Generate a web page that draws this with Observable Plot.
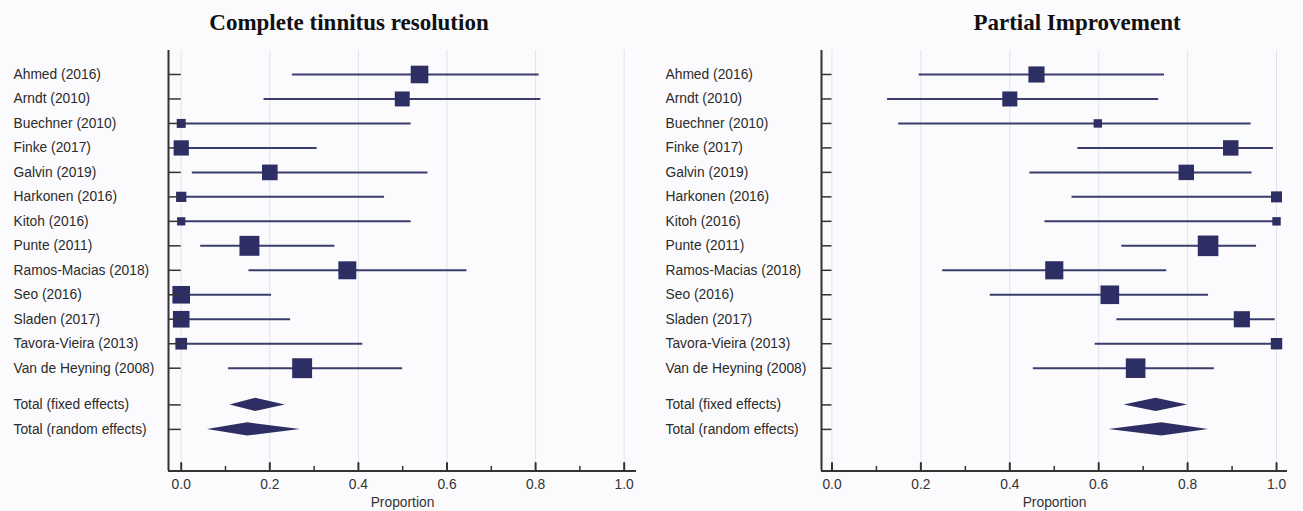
<!DOCTYPE html>
<html><head><meta charset="utf-8">
<script src="https://cdn.jsdelivr.net/npm/d3@7"></script>
<script src="https://cdn.jsdelivr.net/npm/@observablehq/plot@0.6"></script>
<style>
body{margin:0;background:#fbfbfd;}
#wrap{position:relative;width:1303px;height:511px;overflow:hidden;}
.title{position:absolute;top:10.5px;font-family:"Liberation Serif","Times New Roman",serif;font-weight:bold;font-size:23px;line-height:23px;white-space:nowrap;transform:translateX(-50%);color:#111;}
.panel{position:absolute;top:40px;}
</style></head><body><div id="wrap"></div>
<script>
// ---------- data ----------
const studies = ["Ahmed (2016)", "Arndt (2010)", "Buechner (2010)", "Finke (2017)", "Galvin (2019)", "Harkonen (2016)", "Kitoh (2016)", "Punte (2011)", "Ramos-Macias (2018)", "Seo (2016)", "Sladen (2017)", "Tavora-Vieira (2013)", "Van de Heyning (2008)"];
const totalLabels = ["Total (fixed effects)", "Total (random effects)"];

// Complete tinnitus resolution
const completeEst = [0.538, 0.499, 0, 0, 0.200, 0, 0, 0.154, 0.375, 0, 0, 0, 0.273];
const completeLo  = [0.251, 0.187, 0, 0, 0.025, 0, 0, 0.044, 0.153, 0, 0, 0, 0.107];
const completeHi  = [0.808, 0.812, 0.519, 0.307, 0.557, 0.459, 0.519, 0.347, 0.645, 0.204, 0.247, 0.410, 0.500];
const completeWeight = [10.0, 7.2, 2.6, 7.5, 7.9, 3.4, 2.2, 12.8, 10.4, 10.0, 8.9, 4.4, 12.8];
const completeTotalEst = [0.168, 0.150];
const completeTotalLo  = [0.110, 0.059];
const completeTotalHi  = [0.235, 0.269];

// Partial improvement
const partialEst = [0.460, 0.400, 0.598, 0.897, 0.797, 1.0, 1.0, 0.846, 0.500, 0.625, 0.922, 1.0, 0.683];
const partialLo  = [0.196, 0.125, 0.150, 0.553, 0.445, 0.540, 0.479, 0.652, 0.249, 0.356, 0.641, 0.592, 0.453];
const partialHi  = [0.748, 0.735, 0.943, 0.993, 0.945, 1.0, 1.0, 0.955, 0.753, 0.847, 0.997, 1.0, 0.860];
const partialWeight = [8.4, 7.3, 2.3, 7.7, 7.7, 3.9, 2.3, 13.7, 10.6, 11.2, 8.4, 4.2, 12.4];
const partialTotalEst = [0.729, 0.742];
const partialTotalLo  = [0.657, 0.623];
const partialTotalHi  = [0.800, 0.847];

const xTicks = [0, 0.2, 0.4, 0.6, 0.8, 1.0];
const xMinorTicks = [0.1, 0.3, 0.5, 0.7, 0.9];
const titles = ["Complete tinnitus resolution", "Partial Improvement"];
const axisTitle = "Proportion";

// ---------- drawing ----------
const navy = "#2d2e63";
const ciColor = "#3a3d6e";
const axisColor = "#333333";
const gridColor = "#e2e3ea";
const tickUp = {draw(ctx, l) { ctx.moveTo(0, 0); ctx.lineTo(0, -l); }};
const yDomain = [-0.98, 16.2];

function panel(cfg) {
  const rows = studies.map((s, i) => ({label: s, pos: i, est: cfg.est[i], lo: cfg.lo[i], hi: cfg.hi[i], w: cfg.w[i]}));
  const totals = totalLabels.map((s, j) => ({label: s, pos: studies.length + 0.5 + j, est: cfg.tEst[j], lo: cfg.tLo[j], hi: cfg.tHi[j]}));
  const h = 0.27;
  const diamond = totals.flatMap(t => [
    {name: t.label, y: t.pos - h, x1: t.est, x2: t.est},
    {name: t.label, y: t.pos, x1: t.lo, x2: t.hi},
    {name: t.label, y: t.pos + h, x1: t.est, x2: t.est}
  ]);
  const all = rows.concat(totals);
  const xmin = cfg.xDomain[0];
  return Plot.plot({
    width: cfg.width, height: 471,
    marginTop: 10, marginBottom: 40.5, marginLeft: cfg.marginLeft, marginRight: cfg.marginRight,
    style: {background: "transparent", fontFamily: "'Liberation Sans', Arial, sans-serif", fontSize: "13.8px", color: "#2b2b2b", overflow: "visible"},
    x: {domain: cfg.xDomain},
    y: {domain: yDomain, reverse: true, axis: null},
    r: {type: "sqrt", domain: [0, 16], range: [0, 12.57]},
    marks: [
      Plot.ruleX(xTicks, {stroke: gridColor, strokeWidth: 1}),
      Plot.ruleY(rows, {y: "pos", x1: "lo", x2: "hi", stroke: ciColor, strokeWidth: 2}),
      Plot.dot(rows, {x: "est", y: "pos", r: "w", symbol: "square", fill: navy, stroke: null}),
      Plot.areaX(diamond, {y: "y", x1: "x1", x2: "x2", z: "name", fill: navy, curve: "linear"}),
      Plot.ruleY(all, {y: "pos", x1: xmin, x2: 0, stroke: axisColor, strokeWidth: 1.5}),
      Plot.ruleX([xmin], {stroke: axisColor, strokeWidth: 2}),
      Plot.ruleY([yDomain[1]], {stroke: axisColor, strokeWidth: 2}),
      Plot.vector(xTicks, {x: d => d, frameAnchor: "bottom", length: 8, shape: tickUp, anchor: "start", stroke: axisColor, strokeWidth: 2}),
      Plot.vector(xMinorTicks, {x: d => d, frameAnchor: "bottom", length: 4.5, shape: tickUp, anchor: "start", stroke: axisColor, strokeWidth: 1.5}),
      Plot.axisX(xTicks, {tickSize: 0, tickPadding: 8, tickFormat: d3.format(".1f"), label: null, fill: "#333"}),
      Plot.text([axisTitle], {text: d => d, frameAnchor: "bottom", dy: 32, lineAnchor: "middle", fill: "#333"}),
      Plot.text(all, {y: "pos", text: "label", frameAnchor: "left", textAnchor: "start", dx: cfg.labelDx, fill: "#2b2b2b"})
    ]
  });
}

const wrap = document.getElementById("wrap");
const cfgs = [
  {est: completeEst, lo: completeLo, hi: completeHi, w: completeWeight, tEst: completeTotalEst, tLo: completeTotalLo, tHi: completeTotalHi,
   width: 651, marginLeft: 168, marginRight: 15, xDomain: [-0.0287, 1.0278], labelDx: -155, left: 0, titleX: 349},
  {est: partialEst, lo: partialLo, hi: partialHi, w: partialWeight, tEst: partialTotalEst, tLo: partialTotalLo, tHi: partialTotalHi,
   width: 652, marginLeft: 170, marginRight: 16, xDomain: [-0.0236, 1.0247], labelDx: -156, left: 651, titleX: 1077}
];
cfgs.forEach((c, i) => {
  const d = document.createElement("div");
  d.className = "panel";
  d.style.left = c.left + "px";
  d.appendChild(panel(c));
  wrap.appendChild(d);
  const t = document.createElement("div");
  t.className = "title";
  t.style.left = c.titleX + "px";
  t.textContent = titles[i];
  wrap.appendChild(t);
});
</script>
</body></html>
